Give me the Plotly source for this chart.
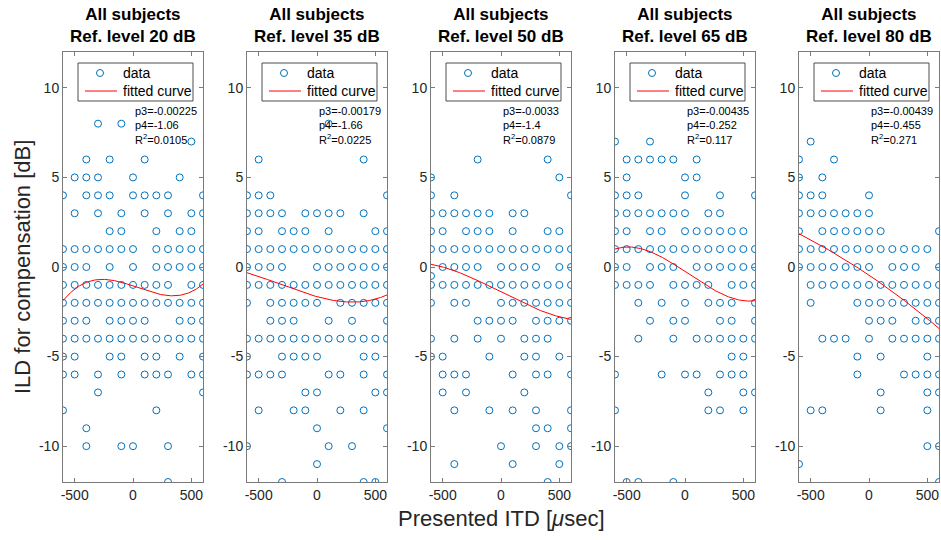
import numpy as np
import plotly.graph_objects as go

# Reference levels (one panel each)
levels_db = [20, 35, 50, 65, 80]

# Presented ITD (usec) grouped by the ILD for compensation (dB) that was chosen
pts_20 = {
    8: [-300, -100],
    7: [500],
    6: [-400, -200, 100],
    5: [-500, -400, -300, 0, 400],
    4: [-600, -400, -300, -200, 0, 100, 200, 300, 600],
    3: [-500, -300, -100, 100, 300, 500, 600],
    2: [-200, -100, 200, 400, 500],
    1: [-600, -500, -400, -300, -200, -100, 0, 200, 300, 400, 500, 600],
    0: [-600, -500, -400, -200, 0, 200, 300, 400, 500, 600],
    -1: [-600, -500, -400, -300, -200, -100, 0, 100, 200, 300, 500, 600],
    -2: [-600, -500, -400, -300, -200, -100, 0, 100, 200, 300, 400, 500, 600],
    -3: [-600, -500, -400, -200, -100, 0, 100, 400, 500, 600],
    -4: [-600, -500, -400, -300, -200, -100, 0, 100, 200, 300, 400, 500, 600],
    -5: [-600, -500, -200, -100, 100, 200, 400, 600],
    -6: [-600, -500, -300, -100, 100, 200, 300, 500, 600],
    -7: [-300, 600],
    -8: [-600, 200],
    -9: [-400],
    -10: [-400, -100, 0, 300],
    -12: [300],
}
pts_35 = {
    8: [100],
    6: [-500, 400],
    4: [-600, -500, -400, 600],
    3: [-600, -500, -400, -300, -100, 0, 100, 200, 400],
    2: [-600, -500, -300, -200, -100, 100, 500, 600],
    1: [-600, -500, -400, -300, -200, -100, 0, 100, 200, 300, 400, 500, 600],
    0: [-600, -500, -400, -300, 0, 100, 200, 300, 400, 500, 600],
    -1: [-600, -500, -400, -300, -200, -100, 0, 100, 200, 300, 400, 500, 600],
    -2: [-600, -400, -300, -200, -100, 0, 200, 300, 400, 500, 600],
    -3: [-400, -300, -200, 100, 300, 600],
    -4: [-600, -500, -400, -300, -200, -100, 0, 100, 200, 300, 400, 500, 600],
    -5: [-600, -300, -200, -100, 0, 400, 500],
    -6: [-600, -500, -400, -300, 100, 200, 400, 600],
    -7: [-100, 0, 500, 600],
    -8: [-500, -200, -100, 200, 400],
    -9: [0, 600],
    -10: [-600, 100, 300],
    -11: [0],
    -12: [-300, 400, 500],
}
pts_50 = {
    6: [-200, 400],
    5: [-600, 500],
    4: [-600, -400, 600],
    3: [-600, -500, -400, -300, -200, -100, 100, 200],
    2: [-600, -500, -300, -200, -100, 100, 400, 500],
    1: [-600, -500, -400, -300, -200, -100, 0, 100, 200, 300, 400, 500, 600],
    0: [-500, -400, -300, -200, 0, 100, 200, 300, 500, 600],
    -0.5: [-600],
    -1: [-600, -500, -400, -300, -200, -100, 0, 100, 200, 300, 400, 500, 600],
    -2: [-600, -400, -300, 0, 100, 200, 300, 400, 500, 600],
    -3: [-200, -100, 0, 100, 300, 400, 500, 600],
    -4: [-600, -400, -200, 0, 200, 300, 400],
    -5: [-600, -500, -100, 200, 300, 500],
    -6: [-500, -400, -300, 100, 300, 400, 600],
    -7: [-500, -300, 200],
    -8: [-400, -100, 100, 300, 600],
    -9: [300, 400, 600],
    -10: [0, 300, 500, 600],
    -11: [-400, 100, 500],
    -12: [400],
}
pts_65 = {
    7: [-600, -300],
    6: [-500, -400, -300, -200, -100, 100],
    5: [-500, 0, 100],
    4: [-600, -500, -400, 0, 300, 600],
    3: [-600, -500, -400, -300, -200, -100, 0, 200, 300],
    2: [-600, -500, -300, -200, 0, 100, 200, 300, 400, 500],
    1: [-600, -500, -400, -300, -200, -100, 0, 100, 200, 300, 400, 500, 600],
    0: [-600, -500, -300, -200, -100, 100, 200, 300, 400, 500, 600],
    -1: [-600, -500, -400, -300, -100, 0, 100, 200, 400, 500, 600],
    -2: [-400, -200, 0, 200, 300, 400, 600],
    -3: [-300, -100, 0, 300, 400, 600],
    -4: [-400, -100, 100, 200, 300, 400, 500, 600],
    -5: [400, 500],
    -6: [-600, -200, 0, 100, 300, 400, 500],
    -7: [200, 500, 600],
    -8: [-600, 200, 300, 500],
    -12: [-500, -400, -100],
}
pts_80 = {
    7: [-500],
    6: [-600, -300],
    5: [-600, -400],
    4: [-600, -500, -400, 0],
    3: [-600, -500, -400, -300, -200, -100, 0],
    2: [-600, -400, -300, -200, -100, 0, 100, 600],
    1: [-600, -500, -400, -300, -200, -100, 0, 100, 200, 300, 400, 500],
    0: [-600, -500, -400, -300, -200, -100, 0, 200, 300, 400, 600],
    -1: [-500, -400, -300, -200, -100, 0, 100, 200, 300, 400, 500, 600],
    -2: [-500, -100, 0, 100, 200, 300, 400, 500, 600],
    -3: [0, 100, 200, 400, 500, 600],
    -4: [-400, -300, -200, 0, 200, 300, 400, 500, 600],
    -5: [-100, 100, 500],
    -6: [-100, 300, 400, 500, 600],
    -7: [100, 500, 600],
    -8: [-500, -400, 100, 500],
    -10: [500, 600],
    -11: [-600],
    -12: [600],
}
panel_points = [pts_20, pts_35, pts_50, pts_65, pts_80]

# Cubic fit coefficients: ILD = p1*x^3 + p2*x^2 + p3*x + p4
p1_vals = [8.4e-9, 2.1e-9, 2.06e-9, 5.4e-9, -5e-11]
p2_vals = [-9.9e-7, 2.0e-6, 4.2e-8, -5.2e-7, -9.2e-7]
p3_vals = [-0.00225, -0.00179, -0.0033, -0.00435, -0.00439]
p4_vals = [-1.06, -1.66, -1.4, -0.252, -0.455]
r2_vals = [0.0105, 0.0225, 0.0879, 0.117, 0.271]

itd_ticks = [-500, 0, 500]
ild_ticks = [-10, -5, 0, 5, 10]
legend_labels = ["data", "fitted curve"]

BLUE = "#0072BD"
RED = "#FF0000"
AX = "#7a7a7a"
LEGEDGE = "#4d4d4d"
TXT = "#262626"
FONT = "Liberation Sans, Arial, sans-serif"

W, H = 941, 540
ML, MR, MT, MB = 63, 2, 52, 58
PW = W - ML - MR
PH = H - MT - MB
PANEL_W, PANEL_STEP = 140, 184


def px(p):
    """Horizontal pixel position -> paper coordinate."""
    return (p - ML) / PW


def py(p):
    """Vertical pixel position (from top) -> paper coordinate."""
    return (H - MB - p) / PH


fig = go.Figure()
annotations, shapes = [], []
layout = dict(
    width=W, height=H,
    margin=dict(l=ML, r=MR, t=MT, b=MB, pad=0),
    paper_bgcolor="white", plot_bgcolor="white",
    font=dict(family=FONT, color=TXT, size=14),
    showlegend=False,
)

xfit = np.linspace(-600, 600, 241)

for i, lev in enumerate(levels_db):
    n = "" if i == 0 else str(i + 1)
    xa, ya = "x" + n, "y" + n

    xs, ys = [], []
    for ild, itds in panel_points[i].items():
        xs += itds
        ys += [ild] * len(itds)

    fig.add_trace(go.Scatter(
        x=xs, y=ys, mode="markers", name=legend_labels[0],
        marker=dict(symbol="circle-open", size=7, color=BLUE, line=dict(width=1, color=BLUE)),
        xaxis=xa, yaxis=ya,
    ))
    coeffs = [p1_vals[i], p2_vals[i], p3_vals[i], p4_vals[i]]
    fig.add_trace(go.Scatter(
        x=xfit, y=np.polyval(coeffs, xfit), mode="lines", name=legend_labels[1],
        line=dict(color=RED, width=1),
        xaxis=xa, yaxis=ya,
    ))

    L = ML + PANEL_STEP * i
    x0 = px(L)
    x1 = px(L + PANEL_W)
    common = dict(
        showline=True, linecolor=AX, linewidth=1, mirror="ticks",
        ticks="inside", ticklen=4, tickcolor=AX, tickwidth=1,
        showgrid=False, zeroline=False,
        tickfont=dict(family=FONT, size=14, color=TXT),
    )
    layout["xaxis" + n] = dict(
        domain=[x0, x1], anchor=ya, range=[-600, 600],
        tickvals=itd_ticks, ticktext=[str(v) for v in itd_ticks], **common,
    )
    layout["yaxis" + n] = dict(
        domain=[0, 1], anchor=xa, range=[-12, 12],
        tickvals=ild_ticks, ticktext=[str(v) for v in ild_ticks], **common,
    )

    # legend box (per panel)
    shapes.append(dict(
        type="rect", xref="paper", yref="paper",
        x0=px(L + 15), x1=px(L + 130), y0=py(101), y1=py(63),
        line=dict(color=LEGEDGE, width=1), fillcolor="white", layer="above",
    ))
    shapes.append(dict(
        type="circle", xref="paper", yref="paper",
        xsizemode="pixel", ysizemode="pixel",
        xanchor=px(L + 37), yanchor=py(73), x0=-3.5, x1=3.5, y0=-3.5, y1=3.5,
        line=dict(color=BLUE, width=1), layer="above",
    ))
    shapes.append(dict(
        type="line", xref="paper", yref="paper",
        x0=px(L + 22), x1=px(L + 54), y0=py(91), y1=py(91),
        line=dict(color=RED, width=1), layer="above",
    ))
    for label, yy in zip(legend_labels, [73, 91]):
        annotations.append(dict(
            x=px(L + 58), y=py(yy), xref="paper", yref="paper",
            xanchor="left", yanchor="middle", showarrow=False,
            text=label, font=dict(family=FONT, size=14, color="#000"),
        ))

    # panel title
    annotations.append(dict(
        x=(x0 + x1) / 2, y=1, xref="paper", yref="paper",
        xanchor="center", yanchor="bottom", yshift=4, showarrow=False,
        text=f"<b>All subjects<br>Ref. level {lev} dB</b>",
        font=dict(family=FONT, size=17, color="#000"),
    ))
    # fit statistics
    annotations.append(dict(
        x=0, y=8, xref=xa, yref=ya, xanchor="left", yanchor="middle",
        yshift=-2, showarrow=False, align="left",
        text=f"p3={p3_vals[i]:g}<br>p4={p4_vals[i]:g}<br>R<sup>2</sup>={r2_vals[i]:g}",
        font=dict(family=FONT, size=11, color="#000"),
    ))

# shared axis labels
annotations.append(dict(
    x=0.5, y=0, xref="paper", yref="paper",
    xanchor="center", yanchor="top", yshift=-22, showarrow=False,
    text="Presented ITD [<i>\u03bc</i>sec]",
    font=dict(family=FONT, size=22, color=TXT),
))
annotations.append(dict(
    x=0, y=0.5, xref="paper", yref="paper", xanchor="center", yanchor="middle",
    xshift=-41, showarrow=False, textangle=-90,
    text="ILD for compensation [dB]",
    font=dict(family=FONT, size=22, color=TXT),
))

layout["annotations"] = annotations
layout["shapes"] = shapes
fig.update_layout(**layout)
fig.write_html("out.html")
